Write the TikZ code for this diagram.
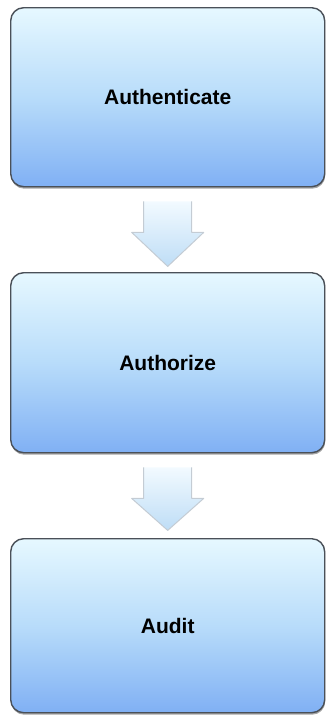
\documentclass[tikz,border=0pt]{standalone}
\usepackage{fontspec}
\setmainfont{Liberation Sans}
\usetikzlibrary{shadows}
\definecolor{boxtop}{HTML}{E6F8FF}
\definecolor{boxmid}{HTML}{B8DCFA}
\definecolor{boxbot}{HTML}{80B0F4}
\definecolor{boxline}{HTML}{4A5058}
\definecolor{arrtop}{HTML}{F2FAFF}
\definecolor{arrbot}{HTML}{BEDDF6}
\definecolor{arrline}{HTML}{C4CCD4}
\begin{document}
\begin{tikzpicture}[x=1pt,y=-1pt,
  stepbox/.style={draw=boxline, line width=1.4pt, rounded corners=13pt,
    top color=boxtop, bottom color=boxbot, middle color=boxmid,
    minimum width=314pt, inner sep=0pt, font=\fontsize{21}{24}\selectfont\bfseries,
    drop shadow={shadow xshift=0.5pt, shadow yshift=-2pt, opacity=0.35, fill=black}},
  flowarrow/.style={draw=arrline, line width=1pt, top color=arrtop, bottom color=arrbot, line join=round}]
\useasboundingbox (0,0) rectangle (326,715);
\node[stepbox, minimum height=179pt, anchor=north west] (auth) at (10,7) {Authenticate};
\node[stepbox, minimum height=180pt, anchor=north west] (authz) at (10,272) {Authorize};
\node[stepbox, minimum height=174pt, anchor=north west] (audit) at (10,538) {Audit};
\path (auth.south) ++(0,14) coordinate (a1);
\path (authz.south) ++(0,14) coordinate (a2);
\draw[flowarrow] (a1) ++(-24,0) -- ++(0,31) -- ++(-12,0) -- ++(36,34) -- ++(36,-34) -- ++(-12,0) -- ++(0,-31);
\draw[flowarrow] (a2) ++(-24,0) -- ++(0,31) -- ++(-12,0) -- ++(36,32) -- ++(36,-32) -- ++(-12,0) -- ++(0,-31);
\end{tikzpicture}
\end{document}
